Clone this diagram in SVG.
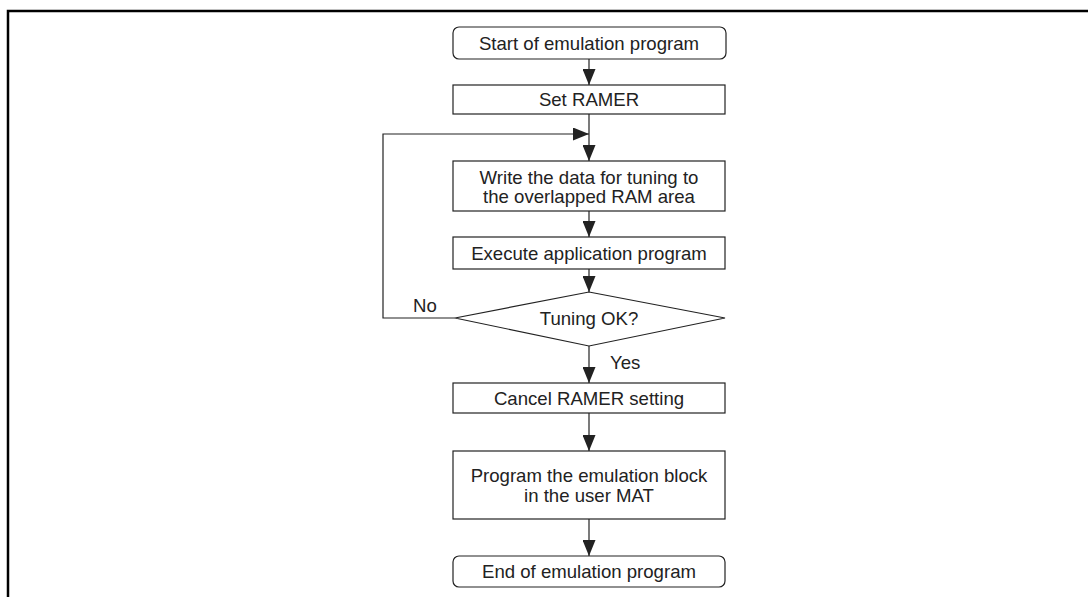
<svg xmlns="http://www.w3.org/2000/svg" width="1088" height="597" viewBox="0 0 1088 597">
<style>
.box{fill:#fff;stroke:#222;stroke-width:1.2}
.t{font-family:"Liberation Sans",Arial,sans-serif;font-size:18.6px;fill:#222;text-anchor:middle}
.l{font-family:"Liberation Sans",Arial,sans-serif;font-size:18.6px;fill:#222}
.c{fill:none;stroke:#222;stroke-width:1.2}
</style>
<defs>
<marker id="ah" markerWidth="16" markerHeight="13" refX="16" refY="6.5" orient="auto" markerUnits="userSpaceOnUse">
<path d="M0,0 L16,6.5 L0,13 Z" fill="#222"/>
</marker>
</defs>
<path d="M8,597 V11 H1088" fill="none" stroke="#000" stroke-width="2.5"/>
<g id="connectors">
<line class="c" x1="589" y1="59" x2="589" y2="85" marker-end="url(#ah)"/>
<line class="c" x1="589" y1="114" x2="589" y2="161" marker-end="url(#ah)"/>
<path class="c" d="M455,318 H383 V134 H589" marker-end="url(#ah)"/>
<line class="c" x1="589" y1="211" x2="589" y2="237" marker-end="url(#ah)"/>
<line class="c" x1="589" y1="269" x2="589" y2="292" marker-end="url(#ah)"/>
<line class="c" x1="589" y1="346" x2="589" y2="383" marker-end="url(#ah)"/>
<line class="c" x1="589" y1="413" x2="589" y2="451" marker-end="url(#ah)"/>
<line class="c" x1="589" y1="519" x2="589" y2="556" marker-end="url(#ah)"/>
<text class="l" x="413" y="312">No</text>
<text class="l" x="610" y="369">Yes</text>
</g>
<g id="start">
<rect class="box" x="453" y="27" width="273" height="32" rx="6"/>
<text class="t" x="589" y="50">Start of emulation program</text>
</g>
<g id="setramer">
<rect class="box" x="453" y="85" width="272" height="29"/>
<text class="t" x="589" y="106">Set RAMER</text>
</g>
<g id="write">
<rect class="box" x="453" y="161" width="272" height="50"/>
<text class="t" x="589" y="184">Write the data for tuning to</text>
<text class="t" x="589" y="203">the overlapped RAM area</text>
</g>
<g id="execute">
<rect class="box" x="453" y="237" width="272" height="32"/>
<text class="t" x="589" y="260">Execute application program</text>
</g>
<g id="decision">
<polygon class="box" points="589,292 725,318 589,346 455,318"/>
<text class="t" x="589" y="325">Tuning OK?</text>
</g>
<g id="cancel">
<rect class="box" x="453" y="383" width="272" height="30"/>
<text class="t" x="589" y="405">Cancel RAMER setting</text>
</g>
<g id="program">
<rect class="box" x="453" y="451" width="272" height="68"/>
<text class="t" x="589" y="482">Program the emulation block</text>
<text class="t" x="589" y="502">in the user MAT</text>
</g>
<g id="end">
<rect class="box" x="453" y="556" width="272" height="31" rx="6"/>
<text class="t" x="589" y="578">End of emulation program</text>
</g>
</svg>
